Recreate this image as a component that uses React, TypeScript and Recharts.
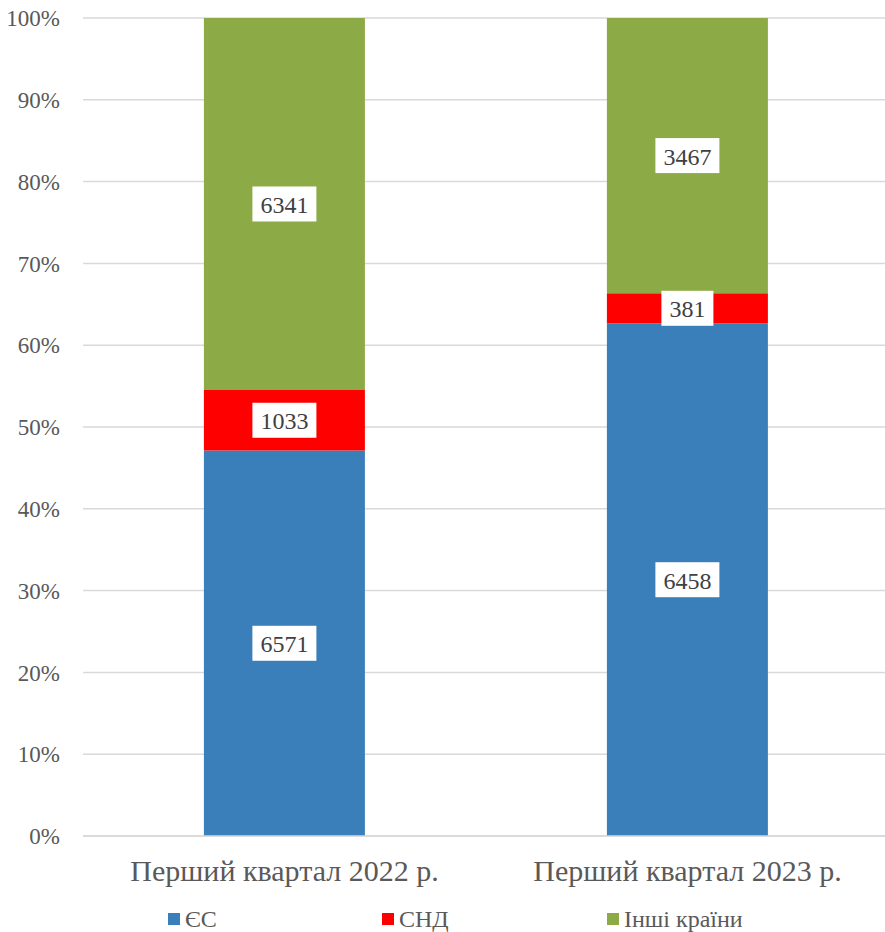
import React from 'react';
import { BarChart, Bar, XAxis, YAxis, CartesianGrid, Legend, LabelList } from 'recharts';

const categories = ['Перший квартал 2022 р.', 'Перший квартал 2023 р.'];
const euValues = [6571, 6458];
const cisValues = [1033, 381];
const otherValues = [6341, 3467];
const yTicks = [0, 0.1, 0.2, 0.3, 0.4, 0.5, 0.6, 0.7, 0.8, 0.9, 1];

const SERIES = [
  { key: 'eu', name: 'ЄС', color: '#3A7FB9' },
  { key: 'cis', name: 'СНД', color: '#FF0000' },
  { key: 'other', name: 'Інші країни', color: '#8CAA45' },
];

const data = categories.map((name, i) => ({
  name,
  eu: euValues[i],
  cis: cisValues[i],
  other: otherValues[i],
}));

const FONT = 'Liberation Serif';

const renderValueLabel = (props: any) => {
  const { x, y, width, height, value } = props;
  const text = String(value);
  const boxW = text.length * 12 + 16;
  const boxH = 35;
  const cx = Number(x) + Number(width) / 2;
  const cy = Number(y) + Number(height) / 2;
  return (
    <g>
      <rect x={cx - boxW / 2} y={cy - boxH / 2} width={boxW} height={boxH} fill="#ffffff" />
      <text
        x={cx}
        y={cy + 1}
        textAnchor="middle"
        dominantBaseline="central"
        style={{ fontFamily: FONT }}
        fontSize={24}
        fill="#404040"
      >
        {text}
      </text>
    </g>
  );
};

// legend placed like the original (uneven spacing)
const legendLefts = [168, 382, 607];

const renderLegend = () => (
  <div style={{ position: 'relative', width: 885, height: 30, fontFamily: FONT, fontSize: 24, color: '#595959' }}>
    {SERIES.map((s, i) => (
      <div
        key={s.key}
        style={{ position: 'absolute', left: legendLefts[i], top: 0, display: 'flex', alignItems: 'center', height: 30 }}
      >
        <span style={{ display: 'inline-block', width: 12, height: 12, background: s.color, marginRight: 5 }} />
        <span>{s.name}</span>
      </div>
    ))}
  </div>
);

export default function App() {
  return (
    <div style={{ position: 'absolute', left: 0, top: 0, width: 885, height: 932, background: '#fff', fontFamily: FONT }}>
      <BarChart
        width={885}
        height={932}
        data={data}
        stackOffset="expand"
        margin={{ top: 18, right: -4, left: 0, bottom: 6 }}
        barCategoryGap="30%"
        style={{ fontFamily: FONT }}
      >
        <CartesianGrid vertical={false} stroke="#d9d9d9" strokeWidth={1.5} />
        <XAxis
          dataKey="name"
          axisLine={{ stroke: '#d9d9d9', strokeWidth: 1.5 }}
          tickLine={false}
          tickMargin={18}
          height={60}
          tick={{ fontSize: 30, fill: '#595959', style: { fontFamily: FONT } }}
        />
        <YAxis
          type="number"
          domain={[0, 1]}
          ticks={yTicks}
          tickFormatter={(v: number) => `${Math.round(v * 100)}%`}
          axisLine={false}
          tickLine={false}
          tickMargin={17}
          width={83}
          tick={{ fontSize: 23, fill: '#595959', style: { fontFamily: FONT } }}
        />
        <Legend
          content={renderLegend}
          wrapperStyle={{ position: 'absolute', left: 0, top: 904, width: 885 }}
        />
        {SERIES.map((s) => (
          <Bar key={s.key} dataKey={s.key} name={s.name} stackId="a" fill={s.color} isAnimationActive={false}>
            <LabelList dataKey={s.key} content={renderValueLabel} />
          </Bar>
        ))}
      </BarChart>
    </div>
  );
}
